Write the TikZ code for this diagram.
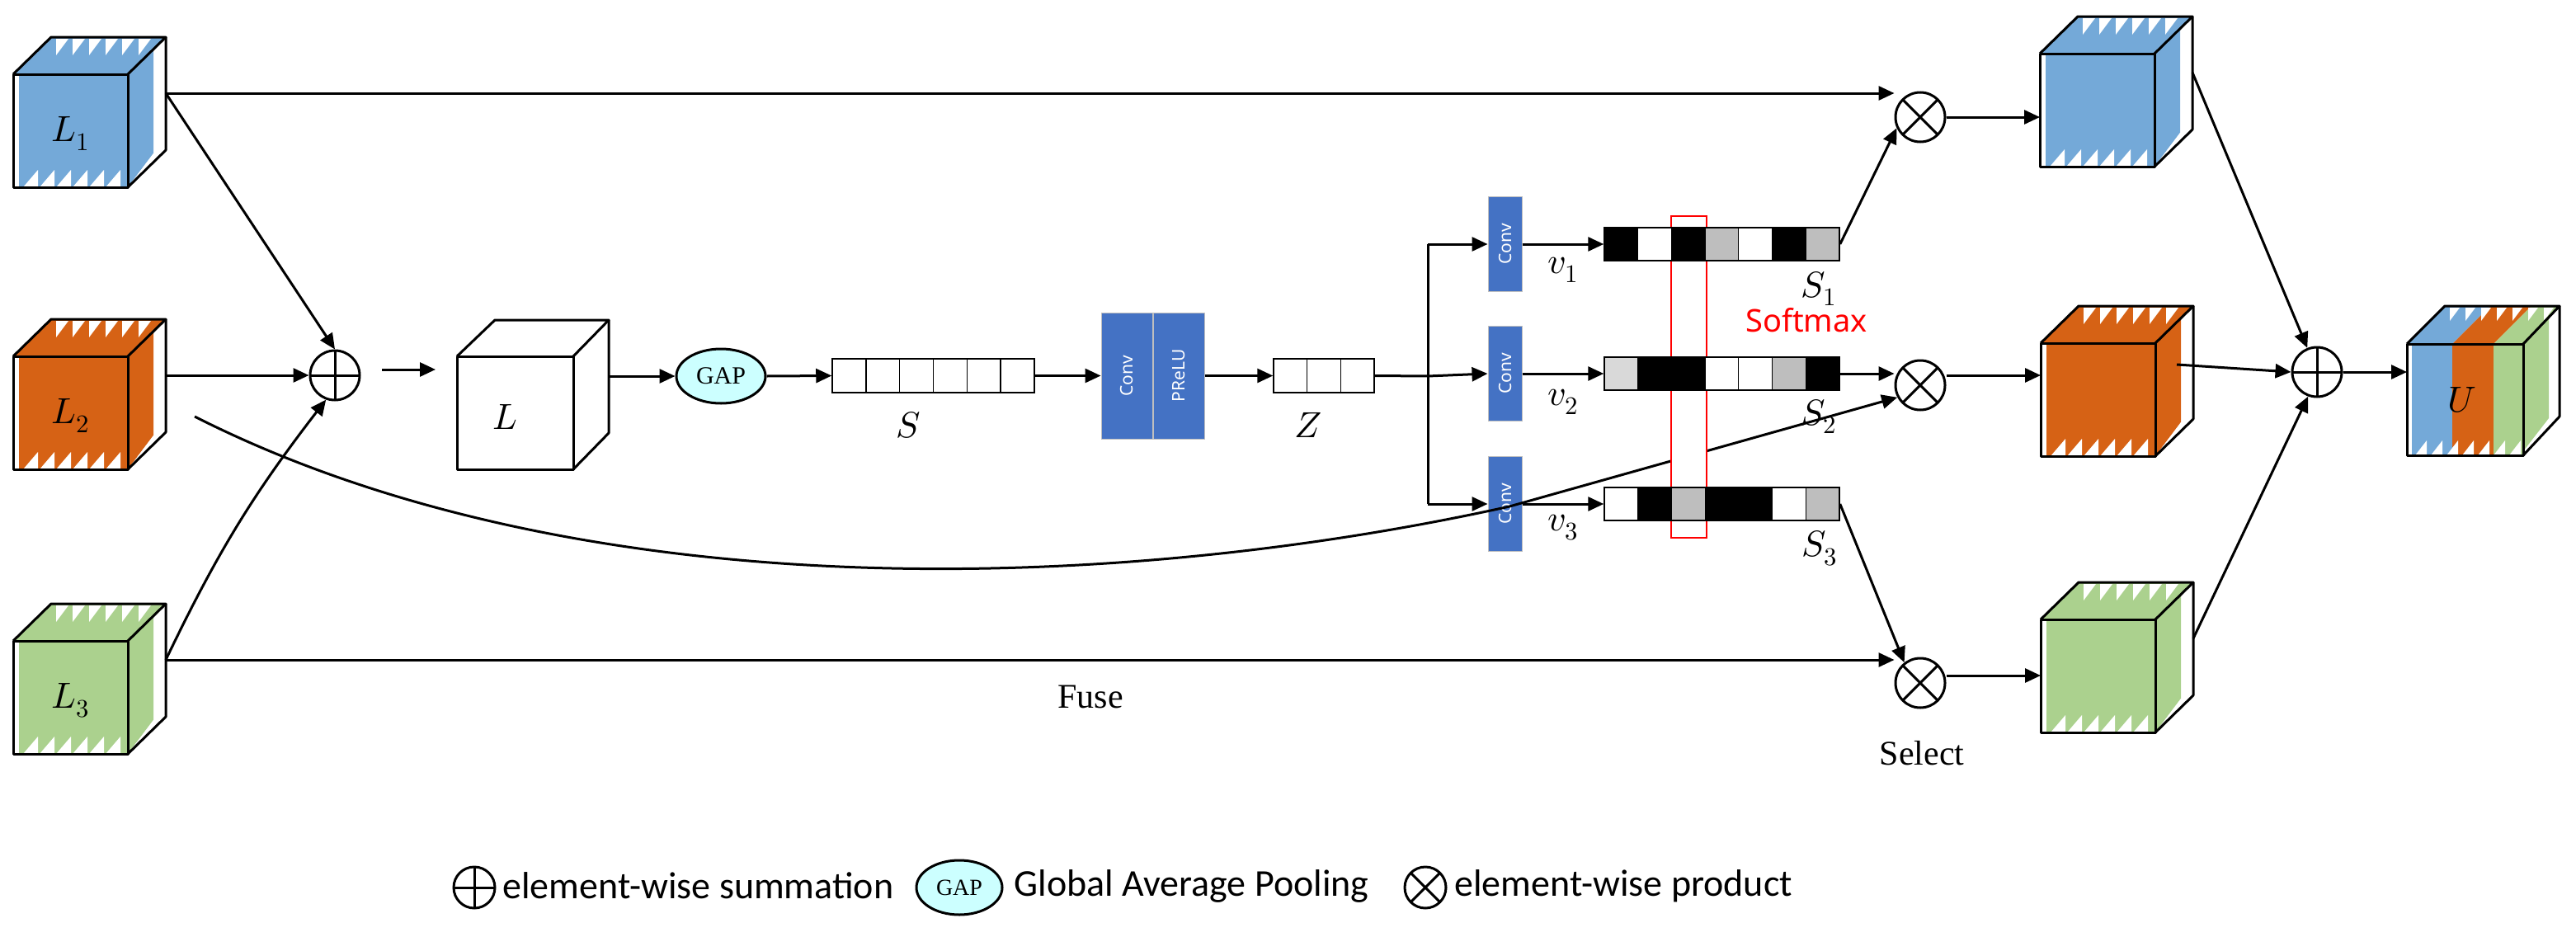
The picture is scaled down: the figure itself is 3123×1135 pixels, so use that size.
\documentclass[tikz,border=0pt]{standalone}
\usepackage{fontspec}
\usepackage{unicode-math}
\setmainfont{Liberation Serif}
\setmathfont{Latin Modern Math}
\newfontfamily\carl{Carlito}
\newfontfamily\nsans{Noto Sans}
\usetikzlibrary{arrows.meta,calc,shapes.geometric}
\definecolor{cblue}{HTML}{74A9D8}
\definecolor{corange}{HTML}{D66215}
\definecolor{cgreen}{HTML}{ABD18E}
\definecolor{convblue}{HTML}{4472C4}
\definecolor{gapc}{HTML}{CCFFFF}
\definecolor{g1}{HTML}{BEBEBE}
\definecolor{g2}{HTML}{D9D9D9}
\tikzset{
 cubeline/.style={line width=3pt,line join=round},
 arr/.style={line width=3pt,-{Triangle[length=19pt,width=17pt]}},
 ln/.style={line width=3pt},
 oplus/.style={circle,draw,line width=3pt,minimum size=60pt,inner sep=0pt,
   path picture={\draw[line width=3pt] (path picture bounding box.north)--(path picture bounding box.south) (path picture bounding box.west)--(path picture bounding box.east);}},
 otimes/.style={circle,draw,line width=3pt,minimum size=60pt,inner sep=0pt,
   path picture={\draw[line width=3pt] (path picture bounding box.north west)--(path picture bounding box.south east) (path picture bounding box.south west)--(path picture bounding box.north east);}},
 conv/.style={fill=convblue,draw=black!25,line width=1pt,text=white,inner sep=0pt,font=\nsans\fontsize{21pt}{24pt}\selectfont},
 cell/.style={draw,line width=1.5pt},
 lab/.style={font=\fontsize{44pt}{50pt}\selectfont},
 txt/.style={font=\fontsize{42pt}{48pt}\selectfont},
 leg/.style={anchor=west,font=\carl\fontsize{46pt}{52pt}\selectfont},
}
\newcommand{\mkcube}[5]{%
\begin{scope}[shift={(#2,#3)}]
\fill[#4] (7,0) rectangle (139,137);
\fill[#4] (0,0)--(46,-45)--(185,-45)--(139,0)--cycle;
\fill[#4] (139,0)--(170,-40)--(170,96)--(139,137)--cycle;
\foreach \i in {0,...,5} \fill[white] (12+20*\i,137)--(30+20*\i,116)--(30+20*\i,137)--cycle;
\foreach \i in {0,...,5} \fill[white] (52+20*\i,-43)--(67+20*\i,-43)--(52+20*\i,-23)--cycle;
\fill[white] (139,137)--(170,96)--(170,106)--(146,137)--cycle;
\draw[cubeline] (0,0) rectangle (139,137);
\draw[cubeline] (0,0)--(46,-45)--(185,-45)--(139,0);
\draw[cubeline] (185,-45)--(185,92)--(139,137);
\node[lab] (#1) at (69,72) {#5};
\coordinate (#1-o) at (185,23);
\coordinate (#1-w) at (0,68);
\end{scope}}
\newcommand{\mkbar}[3]{%
\foreach \c [count=\k from 0] in {#3} \fill[\c] (1945+40.7*\k,#2-20) rectangle (1945+40.7*\k+40.7,#2+20);
\node[cell,minimum width=285pt,minimum height=40pt,inner sep=0pt] (#1) at (2087.5,#2) {};
\foreach \k in {1,...,6} \draw[line width=1pt] (1945+40.7*\k,#2-20)--(1945+40.7*\k,#2+20);}
\begin{document}
\begin{tikzpicture}[x=1pt,y=-1pt]
\useasboundingbox (0,0) rectangle (3123,1135);
% input cubes
\mkcube{L1}{16}{90}{cblue}{$L_1$}
\mkcube{L2}{16}{432}{corange}{$L_2$}
\mkcube{L3}{16}{777}{cgreen}{$L_3$}
% L cube
\begin{scope}[shift={(554,432)}]
\draw[cubeline] (0,0) rectangle (141,137);
\draw[cubeline] (0,0)--(46,-44)--(184,-44)--(141,0);
\draw[cubeline] (184,-44)--(184,93)--(141,137);
\node[lab] (L) at (58,73) {$L$};
\coordinate (L-o) at (184,24);
\coordinate (L-w) at (-26,16);
\end{scope}
% output cubes
\mkcube{C1}{2473}{65}{cblue}{}
\mkcube{C2}{2474}{416}{corange}{}
\mkcube{C3}{2474}{751}{cgreen}{}
% U cube
\begin{scope}[shift={(2918,417)}]
\fill[cblue] (6,0) rectangle (55,135);
\fill[corange] (55,0) rectangle (105,135);
\fill[cgreen] (105,0) rectangle (141,135);
\fill[cblue] (0,0)--(46,-46)--(101,-46)--(55,0)--cycle;
\fill[corange] (55,0)--(101,-46)--(151,-46)--(105,0)--cycle;
\fill[cgreen] (105,0)--(151,-46)--(185,-46)--(141,0)--cycle;
\fill[cgreen] (141,0)--(172,-36)--(172,90)--(141,130)--cycle;
\foreach \i in {0,...,6} \fill[white] (10+19*\i,135)--(24+19*\i,117)--(24+19*\i,135)--cycle;
\foreach \i in {0,...,6} \fill[white] (52+19*\i,-44)--(64+19*\i,-44)--(52+19*\i,-28)--cycle;
\draw[cubeline] (0,0) rectangle (141,135);
\draw[cubeline] (0,0)--(46,-46)--(185,-46)--(141,0);
\draw[cubeline] (185,-46)--(185,88)--(141,135);
\node[lab] (U) at (67,68) {$U$};
\end{scope}
% operators
\node[oplus] (s1) at (406,455) {};
\node[oplus] (s2) at (2809,451) {};
\node[otimes] (ot1) at (2328,142) {};
\node[otimes] (ot2) at (2328,467) {};
\node[otimes] (ot3) at (2328,828) {};
% GAP
\node[ellipse,draw,line width=3pt,fill=gapc,minimum width=108pt,minimum height=66pt,inner sep=0pt,font=\fontsize{30pt}{32pt}\selectfont] (gap) at (874,456) {GAP};
% S vector
\node[cell,minimum width=245pt,minimum height=41pt,inner sep=0pt] (Sv) at (1131.5,455.5) {};
\foreach \i in {1,...,5} \draw[line width=1.5pt] (1009+40.83*\i,435)--(1009+40.83*\i,476);
\node[lab] (Slab) at (1101,515) {$S$};
% Conv PReLU
\node[conv,minimum width=62pt,minimum height=153pt] (cv) at (1366,455.5) {\rotatebox{90}{Conv}};
\node[conv,minimum width=62pt,minimum height=153pt,anchor=west] (pr) at (cv.east) {\rotatebox{90}{PReLU}};
% Z vector
\node[cell,minimum width=122pt,minimum height=41pt,inner sep=0pt] (Zv) at (1605,455.5) {};
\foreach \i in {1,2} \draw[line width=1.5pt] (1544+40.7*\i,435)--(1544+40.7*\i,476);
\node[lab] (Zlab) at (1586,515) {$Z$};
% branch convs
\node[conv,minimum width=41pt,minimum height=115pt] (c1) at (1824.5,296) {\rotatebox{90}{Conv}};
\node[conv,minimum width=41pt,minimum height=115pt] (c2) at (1824.5,453) {\rotatebox{90}{Conv}};
\node[conv,minimum width=41pt,minimum height=115pt] (c3) at (1824.5,611) {\rotatebox{90}{Conv}};
\coordinate (b1) at (1731,296);
\coordinate (b2) at (1731,456);
\coordinate (b3) at (1731,611);
% curve L2 -> ot2 (under red box)
\coordinate (L2c) at (236,505);
\draw[arr] (L2c) .. controls (700,740) and (1350,720) .. (1830,614) -- (ot2.208);
% red softmax box
\draw[red,line width=2.5pt,fill=white] (2026,262) rectangle (2069,652);
% bars
\mkbar{r1}{296}{black,white,black,g1,white,black,g1}
\mkbar{r2}{453}{g2,black,black,white,white,g1,black}
\mkbar{r3}{611}{white,black,g1,black,black,white,g1}
\node[lab] at (1895,327) {$v_1$};
\node[lab] at (1895,487) {$v_2$};
\node[lab] at (1895,640) {$v_3$};
\node[lab] at (2205,350) {$S_1$};
\node[lab] at (2205,505) {$S_2$};
\node[lab] at (2206,665) {$S_3$};
\node[text=red,font=\nsans\fontsize{38pt}{44pt}\selectfont] at (2190,388) {Softmax};
% connectors left
\draw[arr] (L1-o) -- (s1.north);
\draw[arr] (L1-o) -- (L1-o -| ot1.west);
\draw[arr] (L2-o) -- (s1.west);
\draw[arr] (L3-o) to[bend left=6] (s1.250);
\draw[arr] (L3-o) -- (L3-o -| ot3.west);
\coordinate (s1o) at (463,448);
\draw[arr] (s1o) -- (L-w);
\draw[arr] (L-o) -- (gap.west);
\draw[arr] (gap.east) -- (Sv.west);
\draw[arr] (Sv.east) -- (cv.west);
\draw[arr] (pr.east) -- (Zv.west);
\draw[ln] (Zv.east) -- (b2);
\draw[ln] (b1) -- (b3);
\draw[arr] (b1) -- (c1.west);
\draw[arr] (b2) -- (c2.west);
\draw[arr] (b3) -- (c3.west);
\draw[arr] (c1.east) -- (r1.west);
\draw[arr] (c2.east) -- (r2.west);
\draw[arr] (c3.east) -- (r3.west);
\draw[arr] (r1.east) -- (ot1.205);
\draw[arr] (r2.east) -- (r2.east -| ot2.west);
\draw[arr] (r3.east) -- (ot3.128);
\draw[arr] (ot1.east) -- (ot1.east -| C1-w);
\draw[arr] (ot2.east |- 0,455) -- (C2-w |- 0,455);
\draw[arr] (ot3.east |- 0,819) -- (C3-w |- 0,819);
\draw[arr] (C1-o) -- (s2.112);
\draw[arr] (2639,442) -- (s2.west);
\draw[arr] (C3-o) -- (s2.250);
\draw[arr] (s2.east) -- (2918,451);
% texts
\node[txt] (fuse) at (1322,845) {Fuse};
\node[txt] (sel) at (2330,913) {Select};
% legend
\node[oplus,minimum size=50pt] (lg1) at (575,1076) {};
\node[leg] (lt1) at (606,1074) {element-wise summation};
\node[ellipse,draw,line width=3pt,fill=gapc,minimum width=104pt,minimum height=66pt,inner sep=0pt,font=\fontsize{28pt}{32pt}\selectfont] (lg2) at (1163,1076) {GAP};
\node[leg] (lt2) at (1226,1074) {Global Average Pooling};
\node[otimes,minimum size=50pt] (lg3) at (1728,1076) {};
\node[leg] (lt3) at (1760,1074) {element-wise product};
\end{tikzpicture}
\end{document}
